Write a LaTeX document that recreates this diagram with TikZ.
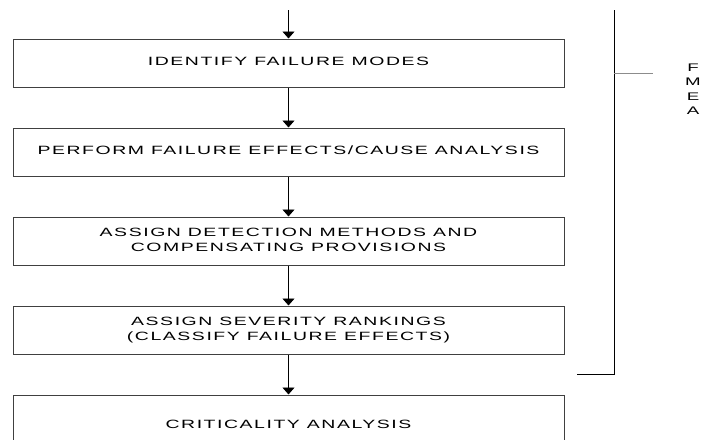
\documentclass[tikz,border=0pt]{standalone}
\usepackage{fontspec}
\usepackage{graphicx}
\usetikzlibrary{arrows.meta}
\newfontfamily\boxfont{Liberation Sans}[LetterSpace=8]
\newfontfamily\tagfont{Liberation Sans}
% wide, stretched capitals as used in the step boxes
\newcommand{\widetext}[1]{\scalebox{1.62}[1]{\begin{tabular}{@{}c@{}}#1\end{tabular}}}
\newcommand{\tagtext}[1]{\scalebox{1.7}[1]{\begin{tabular}{@{}c@{}}#1\end{tabular}}}

\begin{document}
\begin{tikzpicture}[x=1pt,y=-1pt,
  stage/.style={draw=black!75, line width=1pt, minimum width=551pt,
    minimum height=48pt, inner sep=0pt,
    font=\boxfont\fontsize{12pt}{14.5pt}\selectfont},
  flow/.style={draw=black, line width=0.9pt, -{Triangle[width=12pt,length=7pt]}},
  bracket/.style={draw=black, line width=1pt},
  tie/.style={draw=black!45, line width=1pt},
  tag/.style={inner sep=0pt, font=\tagfont\fontsize{11pt}{14.5pt}\selectfont}]
\useasboundingbox (0,0) rectangle (701,439);
\clip (0,0) rectangle (701,439);

% process steps
\node[stage] (s1) at (288.5,63)  {\widetext{IDENTIFY FAILURE MODES}};
\node[stage] (s2) at (288.5,152) {\widetext{PERFORM FAILURE EFFECTS/CAUSE ANALYSIS}};
\node[stage] (s3) at (288.5,241) {\widetext{ASSIGN DETECTION METHODS AND\\COMPENSATING PROVISIONS}};
\node[stage] (s4) at (288.5,330) {\widetext{ASSIGN SEVERITY RANKINGS\\(CLASSIFY FAILURE EFFECTS)}};
\node[stage, minimum height=62pt] (s5) at (288.5,426) {\widetext{CRITICALITY ANALYSIS}};

% flow arrows
\coordinate (in) at (288.5,10);
\draw[flow] (in) -- (s1.north);
\draw[flow] (s1.south) -- (s2.north);
\draw[flow] (s2.south) -- (s3.north);
\draw[flow] (s3.south) -- (s4.north);
\draw[flow] (s4.south) -- (s5.north);

% bracket grouping the first four steps
\coordinate (btop) at (614,10);
\coordinate (bbot) at (614,374);
\coordinate (bfoot) at (577,374);
\coordinate (bmid) at (614,73);
\coordinate (bend) at (653,73);
\draw[bracket] (btop) -- (bbot) -- (bfoot);
\draw[tie] (bmid) -- (bend);

\node[tag] (fmea) at (693,90) {\tagtext{F\\M\\E\\A}};
\end{tikzpicture}
\end{document}
